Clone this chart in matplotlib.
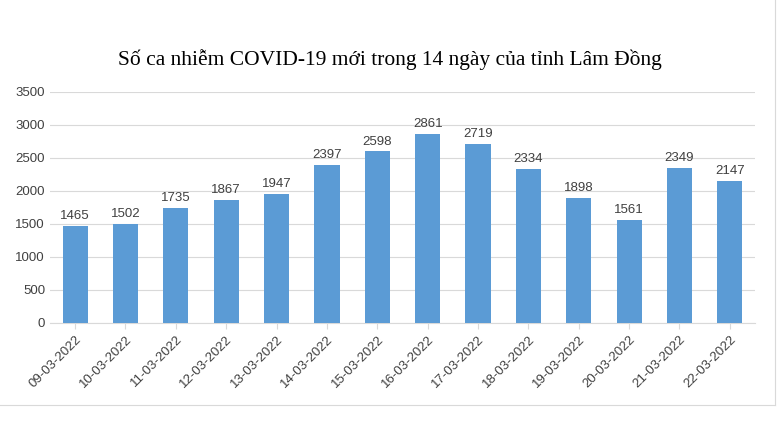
import matplotlib
matplotlib.use("Agg")
import matplotlib.pyplot as plt
from matplotlib.lines import Line2D

title = "Số ca nhiễm COVID-19 mới trong 14 ngày của tỉnh Lâm Đồng"
dates = ["09-03-2022","10-03-2022","11-03-2022","12-03-2022","13-03-2022","14-03-2022","15-03-2022",
         "16-03-2022","17-03-2022","18-03-2022","19-03-2022","20-03-2022","21-03-2022","22-03-2022"]
cases = [1465,1502,1735,1867,1947,2397,2598,2861,2719,2334,1898,1561,2349,2147]
yticks = [0,500,1000,1500,2000,2500,3000,3500]

fig = plt.figure(figsize=(7.8,4.4), dpi=100)
ax = fig.add_axes([0.064,0.266,0.904,0.525])
x = range(len(dates))
bars = ax.bar(x, cases, width=0.5, color="#5B9BD5", zorder=3)
for xi, v in zip(x, cases):
    ax.text(xi, v+60, str(v), ha="center", va="bottom", fontsize=9.5, family="Liberation Sans", color="#404040")
ax.set_ylim(0,3500)
ax.set_yticks(yticks)
ax.set_xlim(-0.5, len(dates)-0.5)
ax.set_xticks(list(x))
ax.set_xticklabels(dates, rotation=45, ha="right", rotation_mode="anchor", fontsize=9.5, family="Liberation Sans", color="#404040")
for l in ax.get_yticklabels():
    l.set_family("Liberation Sans"); l.set_fontsize(9.5); l.set_color("#404040")
ax.grid(axis="y", color="#D9D9D9", lw=0.8, zorder=0)
for s in ["top","right","left"]:
    ax.spines[s].set_visible(False)
ax.spines["bottom"].set_color("#D9D9D9")
ax.tick_params(axis="y", length=0)
ax.tick_params(axis="x", length=4, color="#D9D9D9")
fig.text(0.5, 0.865, title, ha="center", va="center", fontsize=15.5, family="Liberation Serif")
fig.add_artist(Line2D([0.994,0.994],[0.08,1.0], color="#D9D9D9", lw=0.8))
fig.add_artist(Line2D([0.0,0.994],[0.08,0.08], color="#D9D9D9", lw=0.8))
fig.savefig("out.png", dpi=100)
